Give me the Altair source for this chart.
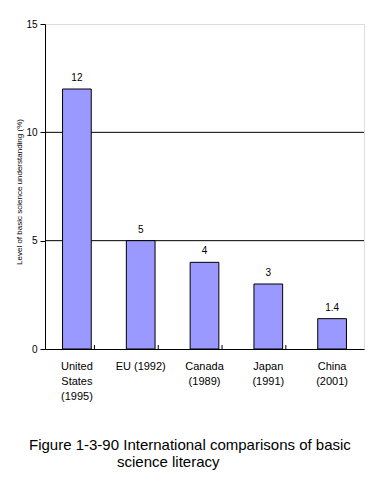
import altair as alt
import pandas as pd

categories = ["United|States|(1995)", "EU (1992)", "Canada|(1989)", "Japan|(1991)", "China|(2001)"]
values = [12, 5, 4, 3, 1.4]
value_labels = ["12", "5", "4", "3", "1.4"]
grid_values = [5, 10]
y_ticks = [0, 5, 10, 15]
title_line1 = "Figure 1-3-90 International comparisons of basic"
title_line2 = "science literacy"

df = pd.DataFrame({"cat": categories, "val": values, "lab": value_labels})
grid_df = pd.DataFrame({"g": grid_values})
tick_df = pd.DataFrame({"cat": categories[1:]})
t1_df = pd.DataFrame({"t": [title_line1]})
t2_df = pd.DataFrame({"t": [title_line2]})

W, H = 319, 325
step = W / 5

FONT = "Liberation Sans"

xscale = alt.Scale(domain=categories, paddingInner=0.55, paddingOuter=0.275)
yscale = alt.Scale(domain=[0, 15], nice=False)

x_enc = alt.X("cat:N", scale=xscale, sort=categories,
              axis=alt.Axis(title=None, labelAngle=0, ticks=False, labelPadding=11,
                            labelExpr="split(datum.label, '|')", labelLineHeight=15,
                            labelFontSize=11, labelFont=FONT, labelColor="black",
                            domainColor="black", labelBaseline="top"))
y_enc = alt.Y("val:Q", scale=yscale,
              axis=alt.Axis(title="Level of basic science understanding (%)", values=y_ticks,
                            grid=False, tickSize=5, tickColor="black", domainColor="black",
                            labelPadding=3, labelFontSize=10, labelFont=FONT, labelColor="black",
                            titleFontSize=8, titleFont=FONT, titleFontWeight="normal",
                            titleColor="black", titleX=-26, titleY=H / 2 + 5, titleAngle=-90,
                            titleBaseline="middle", titleAlign="center"))

grid = alt.Chart(grid_df).mark_rule(color="black", strokeWidth=1).encode(
    y=alt.Y("g:Q", scale=yscale)
)

bars = alt.Chart(df).mark_bar(color="#9999FF", stroke="black", strokeWidth=1).encode(
    x=x_enc, y=y_enc
)

text = alt.Chart(df).mark_text(dy=-6, fontSize=10, font=FONT, color="black", baseline="bottom").encode(
    x=alt.X("cat:N", scale=xscale, sort=categories),
    y=alt.Y("val:Q", scale=yscale),
    text="lab:N",
)

xticks = alt.Chart(tick_df).mark_rule(color="black", strokeWidth=1).encode(
    x=alt.X("cat:N", scale=xscale, sort=categories),
    xOffset=alt.value(-step / 2),
    y=alt.value(H),
    y2=alt.value(H - 4),
)

title1 = alt.Chart(t1_df).mark_text(fontSize=15, font=FONT, color="black", align="left",
                                     baseline="alphabetic").encode(
    x=alt.value(-16),
    y=alt.value(H + 101),
    text="t:N",
)

title2 = alt.Chart(t2_df).mark_text(fontSize=15, font=FONT, color="black", align="left",
                                     baseline="alphabetic").encode(
    x=alt.value(72),
    y=alt.value(H + 118),
    text="t:N",
)

chart = alt.layer(grid, bars, text, xticks, title1, title2).properties(
    width=W,
    height=H,
    autosize=alt.AutoSizeParams(type="none"),
    padding={"left": 37, "top": 16, "right": 10, "bottom": 128},
).configure_view(stroke="#a0a0a0", strokeWidth=1.5).configure(background="white")

chart.save("out.html", embed_options={"renderer": "svg", "actions": False})
